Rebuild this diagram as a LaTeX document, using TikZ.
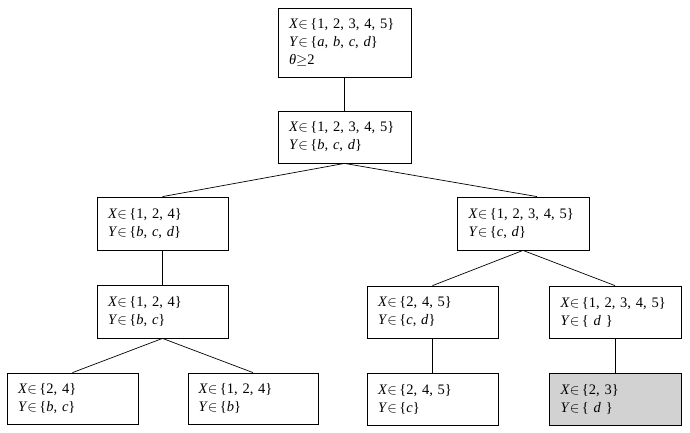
\documentclass[tikz,border=0pt]{standalone}
\usepackage{fontspec}
\setmainfont{Liberation Serif}
\newcommand\myX{\textit{X}$\in$\,}
\newcommand\myY{\textit{Y}$\in$\,}
\begin{document}
\begin{tikzpicture}[x=1pt,y=-1pt,
  box/.style={draw=black, line width=0.8pt, rectangle, inner xsep=0pt, inner ysep=0pt,
    minimum height=52pt, align=left, font=\fontsize{14.5}{18}\selectfont},
  w131/.style={minimum width=131pt, text width=109pt},
  w133/.style={minimum width=133pt, text width=111pt},
  leaf/.style={fill=gray!35},
  conn/.style={draw=black, line width=0.7pt}]
\useasboundingbox (0,0) rectangle (690,432);
\node[box,w133,minimum height=69pt] (b1) at (344.5,42.5) {\myX\{1, 2, 3, 4, 5\}\\\myY\{\textit{a}, \textit{b}, \textit{c}, \textit{d}\}\\\textit{θ}$\geq$2};
\node[box,w133] (b2) at (344.5,137) {\myX\{1, 2, 3, 4, 5\}\\\myY\{\textit{b}, \textit{c}, \textit{d}\}};
\node[box,w131,minimum height=53pt] (b3) at (162.5,223.5) {\myX\{1, 2, 4\}\\\myY\{\textit{b}, \textit{c}, \textit{d}\}};
\node[box,w131,minimum height=53pt] (b4) at (162.5,311.5) {\myX\{1, 2, 4\}\\\myY\{\textit{b}, \textit{c}\}};
\node[box,w131,minimum height=53pt,minimum width=132pt] (b5) at (523,223.5) {\myX\{1, 2, 3, 4, 5\}\\\myY\{\textit{c}, \textit{d}\}};
\node[box,w131] (b6) at (432.5,312) {\myX\{2, 4, 5\}\\\myY\{\textit{c}, \textit{d}\}};
\node[box,w131,minimum width=132pt] (b7) at (615,312) {\myX\{1, 2, 3, 4, 5\}\\\myY\{ \textit{d} \}};
\node[box,w131] (b8) at (432.5,399) {\myX\{2, 4, 5\}\\\myY\{\textit{c}\}};
\node[box,w131,minimum width=132pt,leaf] (b9) at (615,399) {\myX\{2, 3\}\\\myY\{ \textit{d} \}};
\node[box,w131,minimum height=51pt] (b10) at (72.5,398.5) {\myX\{2, 4\}\\\myY\{\textit{b}, \textit{c}\}};
\node[box,w131,minimum height=51pt,minimum width=130pt] (b11) at (253,398.5) {\myX\{1, 2, 4\}\\\myY\{\textit{b}\}};
\draw[conn] (b1.south) -- (b2.north);
\draw[conn] (b2.south) -- (b3.north);
\draw[conn] (b2.south) -- ([xshift=14pt]b5.north);
\draw[conn] (b3.south) -- (b4.north);
\draw[conn] (b4.south) -- (b10.north);
\draw[conn] (b4.south) -- (b11.north);
\draw[conn] (b5.south) -- (b6.north);
\draw[conn] (b5.south) -- (b7.north);
\draw[conn] (b6.south) -- (b8.north);
\draw[conn] (b7.south) -- (b9.north);
\end{tikzpicture}
\end{document}
